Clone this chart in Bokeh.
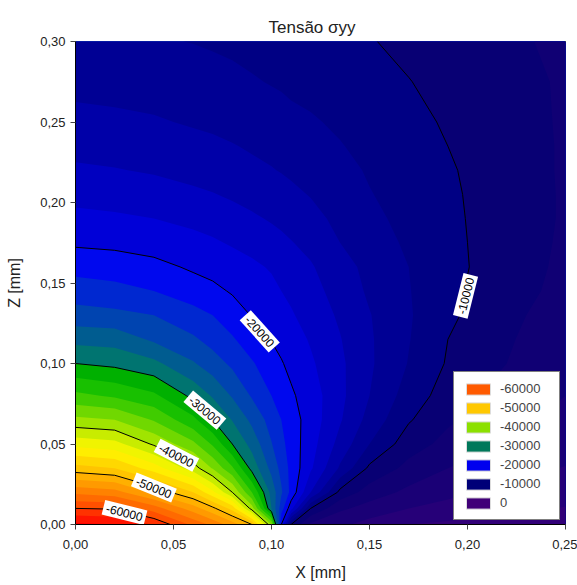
import numpy as np
from bokeh.plotting import figure
from bokeh.models import (Range1d, FixedTicker, CustomJSTickFormatter, Legend,
                          LegendItem, Title, ColumnDataSource)
from bokeh.core.properties import value
from bokeh.embed import file_html
from bokeh.resources import INLINE

# ---------------- data ----------------
x_mm = [0, 0.02, 0.04, 0.06, 0.07, 0.08, 0.09, 0.10, 0.105, 0.11, 0.12,
        0.135, 0.15, 0.17, 0.19, 0.21, 0.23, 0.25]
z_mm = [0, 0.01, 0.02, 0.035, 0.05, 0.065, 0.08, 0.10, 0.115, 0.13, 0.145,
        0.16, 0.175, 0.19, 0.205, 0.22, 0.235, 0.25, 0.275, 0.30]

# sigma_yy, one row per z value (columns follow x_mm)
s_z000 = [-64500, -64000, -61800, -57500, -55500, -53000, -50000, -38000, -20000, -10000, -5600, -4400, -3300, -2000, -1600, -1300, -1100, -900]
s_z010 = [-60000, -59800, -57000, -53000, -50500, -47300, -39000, -28000, -23000, -18700, -10000, -6400, -5200, -4000, -3400, -2800, -2300, -1900]
s_z020 = [-55500, -54800, -51500, -48000, -44500, -40000, -34000, -27300, -24300, -21400, -16000, -9400, -7100, -5500, -4500, -3700, -3200, -2800]
s_z035 = [-48800, -48000, -45000, -41000, -37800, -34300, -29300, -25400, -23400, -21400, -18300, -13700, -9600, -7400, -6000, -5300, -4500, -3900]
s_z050 = [-43300, -42700, -39700, -36500, -33700, -30000, -27300, -24100, -22600, -21100, -18800, -15300, -12000, -8900, -7400, -6300, -5500, -4900]
s_z065 = [-38500, -38000, -35800, -32500, -30000, -27900, -25500, -23200, -22000, -20900, -19100, -16200, -13300, -10200, -8300, -7200, -6200, -5500]
s_z080 = [-34500, -33700, -32400, -29500, -27800, -25800, -23800, -22000, -21200, -20300, -19000, -16500, -14000, -11100, -9100, -7800, -6900, -6000]
s_z100 = [-30000, -29500, -28500, -26200, -24900, -23600, -22200, -20900, -20150, -19500, -18300, -16400, -14300, -11900, -9800, -8500, -7500, -6800]
s_z115 = [-27400, -27200, -25650, -24300, -23300, -22200, -21000, -19900, -19400, -18900, -17800, -16100, -14250, -12100, -10000, -8800, -7700, -7000]
s_z130 = [-24800, -24500, -24000, -22700, -22000, -21000, -19900, -19000, -18600, -18200, -17200, -15700, -14100, -12200, -10400, -9100, -8000, -7300]
s_z145 = [-23000, -22600, -22000, -21000, -20500, -19800, -19200, -18500, -18000, -17600, -16700, -15200, -13700, -12100, -10500, -9300, -8300, -7500]
s_z160 = [-21300, -21100, -20600, -19700, -19300, -18900, -18400, -17800, -17400, -17000, -16200, -14700, -13500, -12000, -10600, -9500, -8500, -7600]
s_z175 = [-19700, -19500, -19100, -18600, -18250, -17800, -17300, -16800, -16500, -16100, -15400, -14000, -12900, -11700, -10500, -9500, -8600, -7700]
s_z190 = [-18500, -18300, -18000, -17500, -17200, -16800, -16300, -15800, -15500, -15200, -14600, -13500, -12500, -11400, -10400, -9500, -8600, -7800]
s_z205 = [-17400, -17200, -16900, -16400, -16100, -15700, -15300, -14900, -14700, -14400, -13900, -13000, -12100, -11200, -10300, -9500, -8600, -7800]
s_z220 = [-16300, -16100, -15800, -15300, -15000, -14700, -14400, -14100, -13900, -13700, -13300, -12600, -11800, -11000, -10200, -9400, -8500, -7800]
s_z235 = [-15400, -15250, -15000, -14600, -14400, -14100, -13800, -13500, -13300, -13100, -12700, -12100, -11500, -10800, -10000, -9300, -8500, -7800]
s_z250 = [-14600, -14400, -14200, -13800, -13600, -13400, -13100, -12800, -12600, -12400, -12200, -11700, -11200, -10500, -9800, -9100, -8400, -7800]
s_z275 = [-13400, -13300, -13100, -12800, -12600, -12400, -12150, -11900, -11800, -11650, -11400, -11000, -10600, -10050, -9500, -8900, -8300, -7800]
s_z300 = [-12400, -12300, -12150, -11950, -11800, -11650, -11450, -11250, -11150, -11050, -10800, -10400, -10100, -9600, -9100, -8600, -8100, -7600]

fill_levels = list(range(-66000, 2000, 2000))
line_levels = [-60000, -50000, -40000, -30000, -20000, -10000]

legend_values = ["-60000", "-50000", "-40000", "-30000", "-20000", "-10000", "0"]

label_text = ["-60000", "-50000", "-40000", "-30000", "-20000", "-10000"]
label_x = [0.025, 0.040, 0.0515, 0.066, 0.094, 0.199]
label_z = [0.0075, 0.023, 0.043, 0.071, 0.120, 0.142]
label_angle_deg = [-14, -22, -27, -40, -48, 76]

x_ticks = [0.0, 0.05, 0.10, 0.15, 0.20, 0.25]
z_ticks = [0.0, 0.05, 0.10, 0.15, 0.20, 0.25, 0.30]

title_text = "Tensão σyy"

# ---------------- styles ----------------
band_colors = [
    "#ff0000", "#ff1400", "#ff3200", "#ff5000", "#ff6a00", "#ff8200",
    "#ff9a00", "#ffb000", "#ffc400", "#ffd800", "#ffee00", "#f0f400",
    "#c8ec00", "#a0e400", "#70d800", "#40cc00", "#18c000", "#00b000",
    "#007470", "#005c90", "#0044b0", "#0028d0", "#0008ee", "#0000d8",
    "#0000c0", "#0000a8", "#000094", "#000084", "#080074", "#100074",
    "#1a0076", "#260078", "#320078",
]
legend_colors = ["#ff5a00", "#ffc800", "#8ce000", "#00785a", "#0000ee",
                 "#000078", "#400078"]

FONT = "Liberation Sans"

stress = np.array([s_z000, s_z010, s_z020, s_z035, s_z050, s_z065, s_z080,
                   s_z100, s_z115, s_z130, s_z145, s_z160, s_z175, s_z190,
                   s_z205, s_z220, s_z235, s_z250, s_z275, s_z300],
                  dtype=float)

p = figure(width=577, height=585,
           x_range=Range1d(0, 0.25), y_range=Range1d(0, 0.30),
           output_backend="svg", toolbar_location=None,
           min_border_left=75, min_border_right=12,
           min_border_top=41, min_border_bottom=61)
p.title = Title(text=title_text, align="left", offset=193,
                text_font=FONT, text_font_size="17px",
                text_font_style="normal", text_color="#222222", standoff=10)
p.background_fill_color = "white"
p.border_fill_color = "white"
p.outline_line_color = "black"
p.outline_line_width = 1
p.xgrid.visible = False
p.ygrid.visible = False

# filled bands, painted as nested regions {sigma >= level} so that no
# light seams appear between neighbouring bands
top = fill_levels[-1]
for lev, col in zip(fill_levels[:-1], band_colors):
    p.contour(x=x_mm, y=z_mm, z=stress, levels=[lev, top],
              fill_color=col, line_color=None)

cl = p.contour(x=x_mm, y=z_mm, z=stress, levels=line_levels,
               line_color="black", line_width=1)

# contour labels
src = ColumnDataSource(dict(x=label_x, y=label_z, text=label_text,
                            angle=[np.deg2rad(a) for a in label_angle_deg]))
p.text(x="x", y="y", text="text", angle="angle", source=src,
       text_align="center", text_baseline="middle",
       text_font=value(FONT), text_font_size="12px", text_color="black",
       background_fill_color="white", padding=3)

# axes
fmt = CustomJSTickFormatter(code="return tick.toFixed(2).replace('.', ',');")
for ax, ticks, lab in ((p.xaxis, x_ticks, "X [mm]"), (p.yaxis, z_ticks, "Z [mm]")):
    ax.ticker = FixedTicker(ticks=ticks)
    ax.formatter = fmt
    ax.axis_label = lab
    ax.axis_label_text_font = FONT
    ax.axis_label_text_font_size = "16px"
    ax.axis_label_text_font_style = "normal"
    ax.axis_label_text_color = "#222222"
    ax.major_label_text_font = FONT
    ax.major_label_text_font_size = "13px"
    ax.major_label_text_color = "#222222"
    ax.major_tick_in = 0
    ax.major_tick_out = 5
    ax.minor_tick_in = 0
    ax.minor_tick_out = 0
    ax.axis_line_color = "black"
    ax.major_tick_line_color = "#444444"
p.xaxis.major_label_standoff = 10
p.xaxis.axis_label_standoff = 12
p.yaxis.major_label_standoff = 5
p.yaxis.axis_label_standoff = 14

# legend
items = []
for lab, col in zip(legend_values, legend_colors):
    r = p.quad(left=[np.nan], right=[np.nan], top=[np.nan], bottom=[np.nan],
               fill_color=col, line_color="#dddddd", line_width=1)
    items.append(LegendItem(label=lab, renderers=[r]))
legend = Legend(items=items, location=(378, 4), orientation="vertical",
                border_line_color="black", border_line_width=1,
                background_fill_color="white", background_fill_alpha=1,
                padding=9, spacing=4, margin=0,
                glyph_width=30, glyph_height=14, label_height=14,
                label_width=50, label_standoff=7,
                label_text_font=FONT, label_text_font_size="13px")
p.add_layout(legend, "center")

open("out.html", "w").write(file_html(p, INLINE))
